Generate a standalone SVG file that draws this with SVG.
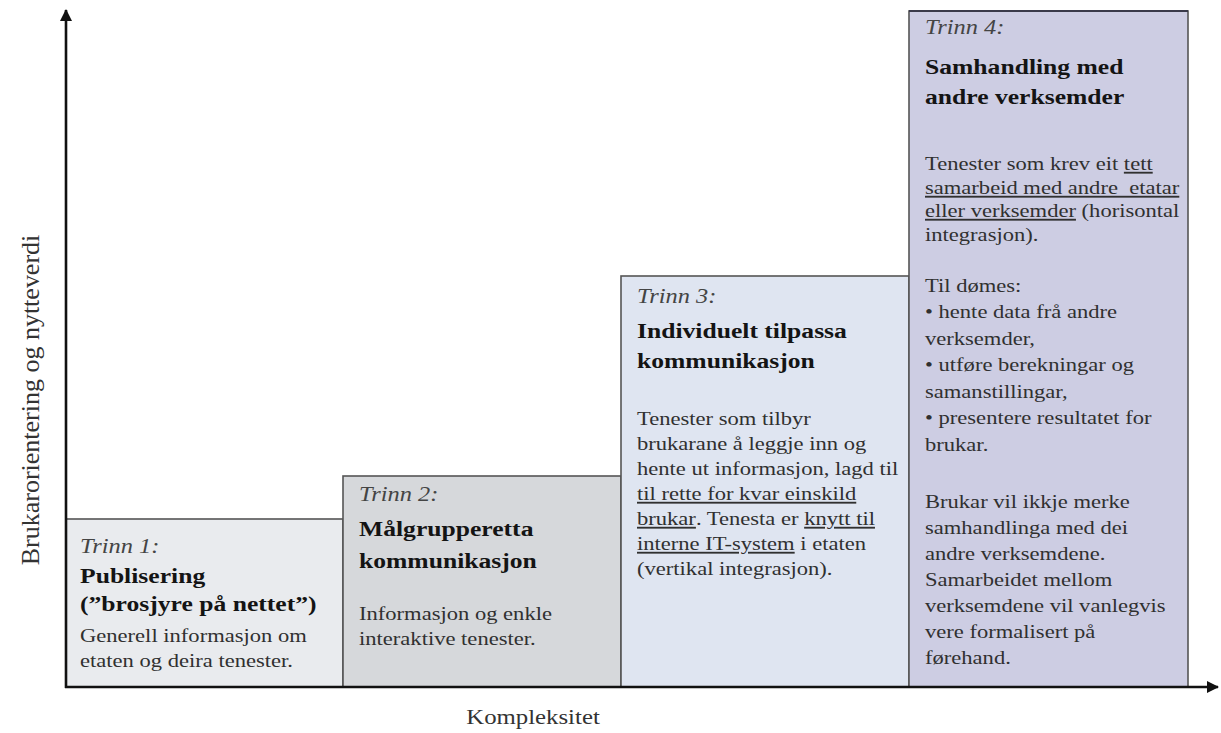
<svg xmlns="http://www.w3.org/2000/svg" width="1221" height="733" viewBox="0 0 1221 733">
<defs>
<style>
text{font-family:"Liberation Serif","Times New Roman",serif;}
.it{font-style:italic;font-size:20px;fill:#444;}
.hd{font-weight:bold;font-size:21px;fill:#141414;}
.bd{font-size:18.5px;fill:#303030;}
.u{text-decoration:underline;}
.box{stroke:#555;stroke-width:1.6;}
.ax{stroke:#111;stroke-width:2.6;fill:none;}
</style>
<marker id="ah" viewBox="0 0 12 12" refX="11" refY="6" markerWidth="12" markerHeight="12" markerUnits="userSpaceOnUse" orient="auto">
<path d="M0,0 L12,6 L0,12 z" fill="#111"/>
</marker>
</defs>
<rect width="1221" height="733" fill="#fff"/>

<g id="trinn1">
<rect class="box" x="66" y="519" width="277" height="168" fill="#e9ebee"/>
<g transform="translate(80,0) scale(1.22,1)">
<text class="it" x="0" y="553">Trinn 1:</text>
<text class="hd" x="0" y="583">Publisering</text>
<text class="hd" x="0" y="611">(”brosjyre på nettet”)</text>
<text class="bd" x="0" y="642">Generell informasjon om</text>
<text class="bd" x="0" y="667">etaten og deira tenester.</text>
</g>
</g>

<g id="trinn2">
<rect class="box" x="343" y="476" width="278" height="211" fill="#d6d8db"/>
<g transform="translate(359,0) scale(1.22,1)">
<text class="it" x="0" y="501">Trinn 2:</text>
<text class="hd" x="0" y="536">Målgrupperetta</text>
<text class="hd" x="0" y="568">kommunikasjon</text>
<text class="bd" x="0" y="620">Informasjon og enkle</text>
<text class="bd" x="0" y="645">interaktive tenester.</text>
</g>
</g>

<g id="trinn3">
<rect class="box" x="621" y="276" width="288" height="411" fill="#dfe5f1"/>
<g transform="translate(637,0) scale(1.22,1)">
<text class="it" x="0" y="303">Trinn 3:</text>
<text class="hd" x="0" y="338">Individuelt tilpassa</text>
<text class="hd" x="0" y="368">kommunikasjon</text>
<text class="bd" x="0" y="425">Tenester som tilbyr</text>
<text class="bd" x="0" y="450">brukarane å leggje inn og</text>
<text class="bd" x="0" y="475">hente ut informasjon, lagd til</text>
<text class="bd" x="0" y="500"><tspan class="u">til rette for kvar einskild</tspan></text>
<text class="bd" x="0" y="525"><tspan class="u">brukar</tspan>. Tenesta er <tspan class="u">knytt til</tspan></text>
<text class="bd" x="0" y="550"><tspan class="u">interne IT-system</tspan> i etaten</text>
<text class="bd" x="0" y="575">(vertikal integrasjon).</text>
</g>
</g>

<g id="trinn4">
<rect class="box" x="909" y="11" width="279" height="676" fill="#cdcde3"/>
<line x1="909" y1="11" x2="1188" y2="11" stroke="#3a3a4a" stroke-width="2"/>
<g transform="translate(925,0) scale(1.22,1)">
<text class="it" x="0" y="34">Trinn 4:</text>
<text class="hd" x="0" y="74">Samhandling med</text>
<text class="hd" x="0" y="104">andre verksemder</text>
<text class="bd" x="0" y="170">Tenester som krev eit <tspan class="u">tett</tspan></text>
<text class="bd" x="0" y="194"><tspan class="u">samarbeid med andre&#160; etatar</tspan></text>
<text class="bd" x="0" y="217"><tspan class="u">eller verksemder</tspan> (horisontal</text>
<text class="bd" x="0" y="241">integrasjon).</text>
<text class="bd" x="0" y="292">Til dømes:</text>
<text class="bd" x="0" y="318.5">• hente data frå andre</text>
<text class="bd" x="0" y="345">verksemder,</text>
<text class="bd" x="0" y="371.5">• utføre berekningar og</text>
<text class="bd" x="0" y="398">samanstillingar,</text>
<text class="bd" x="0" y="424.5">• presentere resultatet for</text>
<text class="bd" x="0" y="451">brukar.</text>
<text class="bd" x="0" y="508">Brukar vil ikkje merke</text>
<text class="bd" x="0" y="534">samhandlinga med dei</text>
<text class="bd" x="0" y="560">andre verksemdene.</text>
<text class="bd" x="0" y="586">Samarbeidet mellom</text>
<text class="bd" x="0" y="612">verksemdene vil vanlegvis</text>
<text class="bd" x="0" y="638">vere formalisert på</text>
<text class="bd" x="0" y="664">førehand.</text>
</g>
</g>

<g id="connectors">
<line class="ax" x1="66" y1="688" x2="66" y2="10" marker-end="url(#ah)"/>
<line class="ax" x1="65" y1="687" x2="1218" y2="687" marker-end="url(#ah)"/>
</g>

<g id="labels">
<text transform="translate(39,400) rotate(-90) scale(1.3,1.22)" text-anchor="middle" font-size="20" fill="#333">Brukarorientering og nytteverdi</text>
<text transform="translate(533,724) scale(1.24,1)" text-anchor="middle" font-size="20" fill="#333">Kompleksitet</text>
</g>
</svg>
